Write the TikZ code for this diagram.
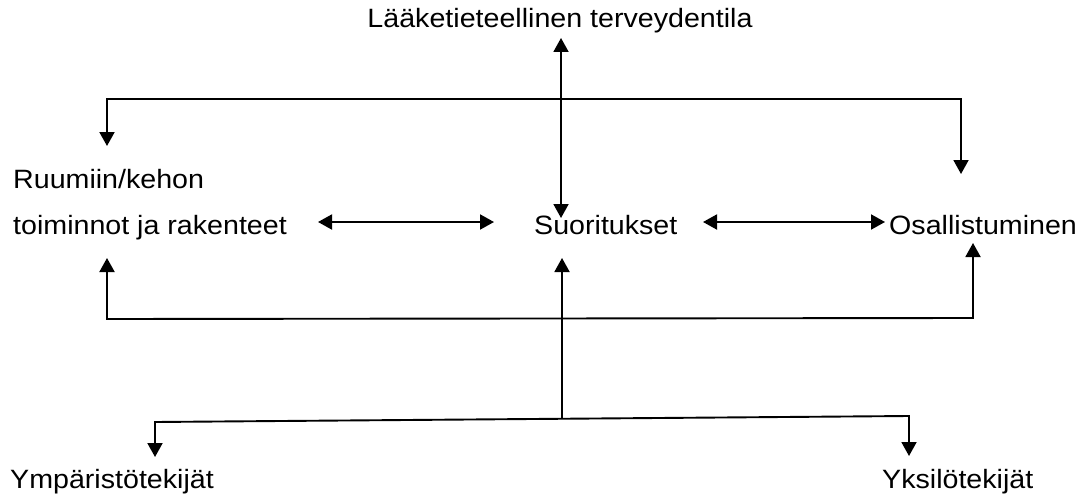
\documentclass[tikz,border=0pt]{standalone}
\usepackage{fontspec}
\setmainfont{Liberation Sans}
\usetikzlibrary{arrows.meta}
% slightly widened text
\newcommand{\widetext}[1]{\scalebox{1.08}[1]{#1}}
\begin{document}
\begin{tikzpicture}[x=1pt,y=-1pt,
  txt/.style={inner sep=0pt, font=\fontsize{26.5}{30}\selectfont},
  tip/.style={-{Triangle[length=14pt,width=15pt]}},
  twotips/.style={{Triangle[length=14pt,width=15pt]}-{Triangle[length=14pt,width=15pt]}},
  wire/.style={line width=1.9pt, line join=miter}]
\useasboundingbox (0,0) rectangle (1089,495);

% labels
\node[txt, anchor=base] (health) at (560,28) {\widetext{Lääketieteellinen terveydentila}};
\node[txt, anchor=base west] (body1) at (13,188) {\widetext{Ruumiin/kehon}};
\node[txt, anchor=base west] (body) at (13,234) {\widetext{toiminnot ja rakenteet}};
\node[txt, anchor=base west] (act) at (534,234) {\widetext{Suoritukset}};
\node[txt, anchor=base west] (part) at (889,234) {\widetext{Osallistuminen}};
\node[txt, anchor=base west] (env) at (10,488) {\widetext{Ympäristötekijät}};
\node[txt, anchor=base west] (pers) at (882,488) {\widetext{Yksilötekijät}};

% connector end points
\coordinate (hTop) at (561,38);
\coordinate (hBot) at (561,218);
\coordinate (tL) at (107,146);
\coordinate (tLc) at (107,99);
\coordinate (tRc) at (961,99);
\coordinate (tR) at (961,174);
\coordinate (bL) at (107,258);
\coordinate (bLc) at (107,319);
\coordinate (bRc) at (973,318);
\coordinate (bR) at (973,243);
\coordinate (aL1) at (318,222);
\coordinate (aR1) at (494,222);
\coordinate (aL2) at (703,222);
\coordinate (aR2) at (885,222);
\coordinate (mUp) at (562,258);
\coordinate (mLow) at (562,418);
\coordinate (eTip) at (155,457);
\coordinate (eC) at (155,422);
\coordinate (pC) at (909,416);
\coordinate (pTip) at (909,456);

% connectors
\draw[wire, twotips] (hTop) -- (hBot);
\draw[wire, twotips] (tL) -- (tLc) -- (tRc) -- (tR);
\draw[wire, twotips] (bL) -- (bLc) -- (bRc) -- (bR);
\draw[wire, twotips] (aL1) -- (aR1);
\draw[wire, twotips] (aL2) -- (aR2);
\draw[wire, tip] (mLow) -- (mUp);
\draw[wire, twotips] (eTip) -- (eC) -- (pC) -- (pTip);
\end{tikzpicture}
\end{document}
